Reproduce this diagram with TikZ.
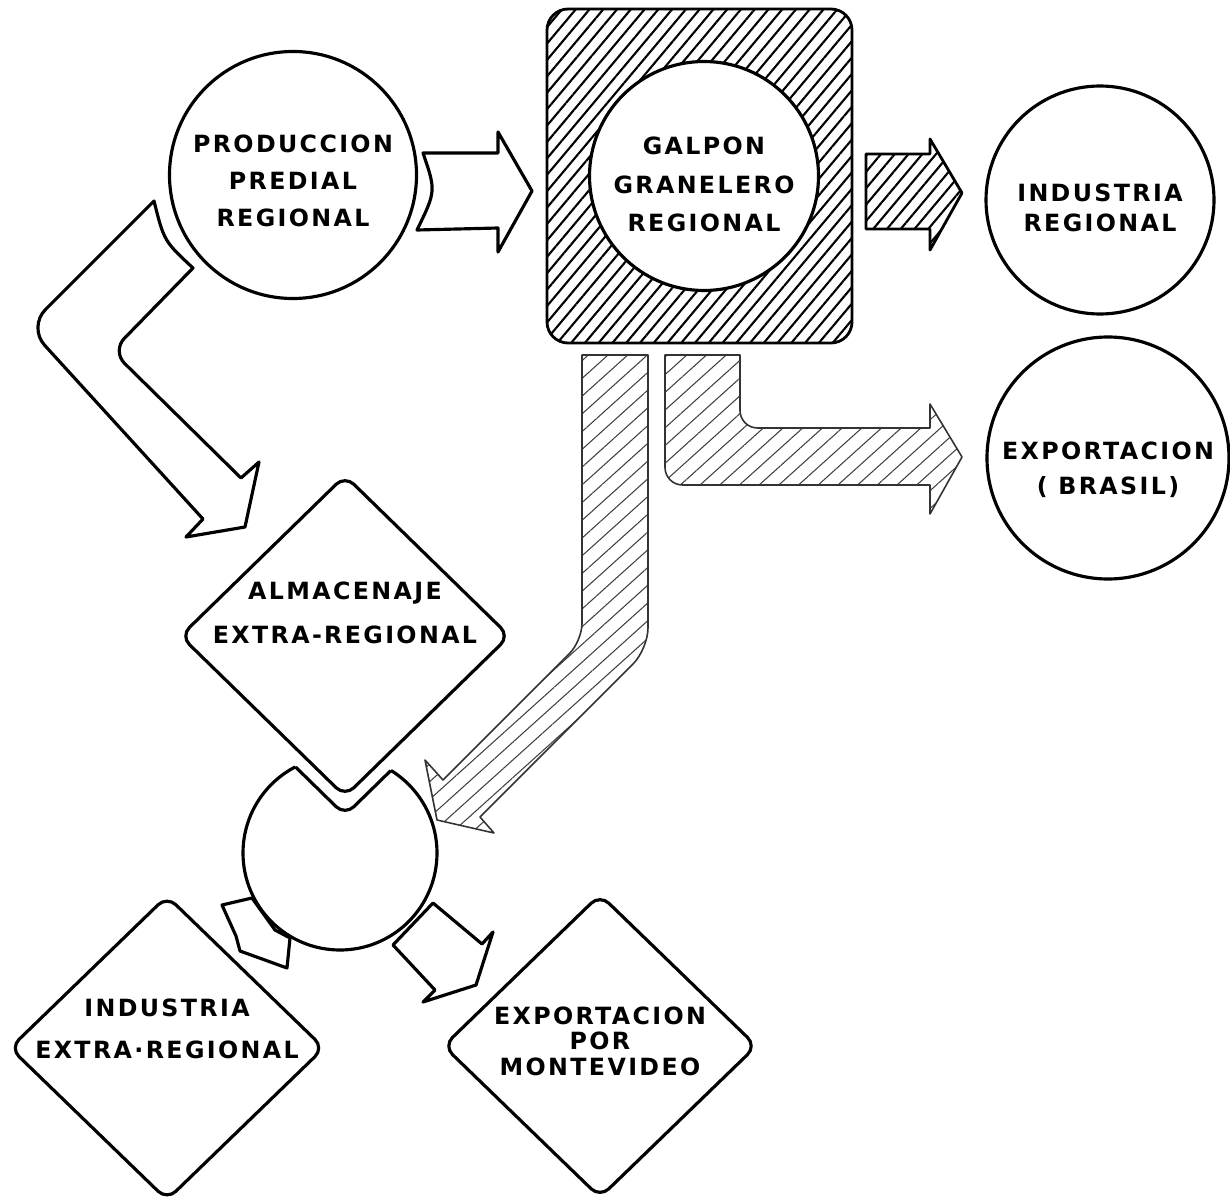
\documentclass[tikz,border=0pt]{standalone}
\usepackage{fontspec}
\setmainfont{DejaVu Sans}[LetterSpace=10]
\usetikzlibrary{shapes.geometric,patterns.meta}

\begin{document}
\begin{tikzpicture}[
    x=0.2mm, y=-0.2mm,
    txt/.style={font=\bfseries\fontsize{13.5}{#1}\selectfont, align=center},
    txt/.default=21pt,
    ring/.style={circle, draw, line width=1.8pt, fill=white, inner sep=0pt},
    rhomb/.style={diamond, draw, line width=1.8pt, fill=white, rounded corners=7pt, inner sep=0pt},
    hollow/.style={draw, line width=1.8pt, fill=white, line join=round},
    hatched/.style={draw, line width=1.6pt, line join=round, pattern={Lines[angle=50,distance=6pt,line width=1.2pt]}, pattern color=black},
    faded/.style={draw=black!80, line width=0.9pt, line join=round, pattern={Lines[angle=42,distance=7.5pt,line width=0.6pt]}, pattern color=black!75}
]
  \useasboundingbox (0,0) rectangle (1230,1204);

  % hatched store with its round centre
  \draw[hatched, rounded corners=12pt] (547,9) rectangle (852,343);
  \node[ring, minimum size=4.58cm, label={[txt=22pt, yshift=-0.17cm]center:GALPON\\GRANELERO\\REGIONAL}] (galpon) at (704,176) {};

  \node[ring, minimum size=4.94cm, label={[txt, yshift=-0.12cm]center:PRODUCCION\\PREDIAL\\REGIONAL}] (prod) at (293,175) {};
  \node[ring, minimum size=4.56cm, label={[txt=17pt, yshift=-0.16cm]center:INDUSTRIA\\REGIONAL}] (indreg) at (1100,200) {};
  \node[ring, minimum size=4.84cm, label={[txt=20pt, yshift=-0.24cm]center:EXPORTACION\\( BRASIL)}] (brasil) at (1108,458) {};

  % block arrows
  \draw[hollow] (417,230) .. controls (436,191) .. (423,153) -- (498,153) -- (498,132) -- (532,191) -- (498,252) -- (498,228) -- cycle;
  \draw[hatched] (866,154) -- (930,154) -- (930,139) -- (962,193) -- (930,250) -- (930,229) -- (866,229) -- cycle;
  \draw[hollow] (154,201) .. controls (164,241) .. (193,268) [rounded corners=10pt] -- (112,351) [sharp corners] -- (241,478) -- (259,462) -- (245,527) -- (186,537) -- (203,519) [rounded corners=14pt] -- (28,327) [sharp corners] -- cycle;

  % strips under the store
  \draw[faded] (582,355) [rounded corners=10pt] -- (582,641) [sharp corners] -- (443,780) -- (425,760) -- (437,820) -- (494,833) -- (480,817) [rounded corners=12pt] -- (648,649) [sharp corners] -- (648,355) -- cycle;
  \draw[faded] (665,355) [rounded corners=10pt] -- (665,485) [sharp corners] -- (930,485) -- (930,514) -- (962,457) -- (930,404) -- (930,428) [rounded corners=10pt] -- (740,428) [sharp corners] -- (740,355) -- cycle;

  % small arrows out of the hub
  \draw[hollow] (222,905) -- (252,898) -- (275,930) -- (290,938) -- (287,968) -- (240,951) -- (236,936) -- cycle;
  \draw[hollow] (393,945) -- (433,903) -- (482,944) -- (493,932) -- (476,985) -- (423,1002) -- (435,990) -- cycle;

  \node[ring, minimum size=3.88cm] (hub) at (340,853) {};

  % notch of the hub under the diamond
  \node[diamond, fill=white, minimum width=7.32cm, minimum height=7.16cm, rounded corners=7pt, inner sep=0pt] (gap) at (345,636) {};
  \begin{scope}
    \clip (hub.center) circle (1.94cm);
    \draw[line width=1.8pt, rounded corners=7pt] (gap.north) -- (gap.east) -- (gap.south) -- (gap.west) -- cycle;
  \end{scope}

  \node[rhomb, minimum width=6.6cm, minimum height=6.44cm, label={[txt=25pt, yshift=0.46cm]center:ALMACENAJE\\EXTRA-REGIONAL}] (alm) at (345,636) {};
  \node[rhomb, minimum width=6.3cm, minimum height=6.1cm, label={[txt=24pt, yshift=0.38cm]center:INDUSTRIA\\EXTRA·REGIONAL}] (indext) at (167,1048) {};
  \node[rhomb, minimum width=6.28cm, minimum height=6.08cm, label={[txt=14.5pt, yshift=0.1cm]center:EXPORTACION\\POR\\MONTEVIDEO}] (mvd) at (600,1046) {};
\end{tikzpicture}
\end{document}
